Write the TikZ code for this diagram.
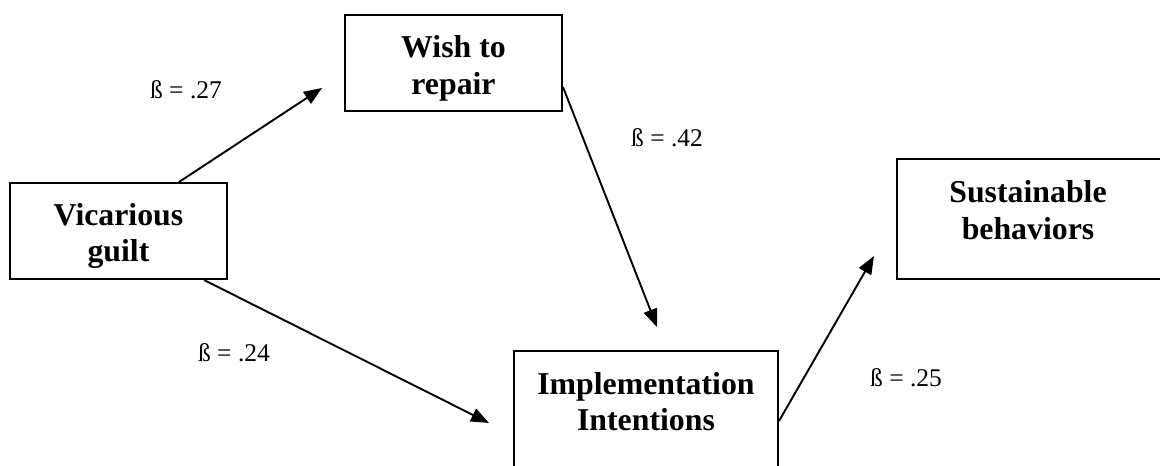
\documentclass[tikz,border=0pt]{standalone}
\usepackage{fontspec}
\setmainfont{Liberation Serif}
\usetikzlibrary{arrows.meta}
\begin{document}
\begin{tikzpicture}[x=1pt,y=-1pt,
  box/.style={draw,line width=2pt,inner sep=0pt},
  boxtext/.style={font=\fontsize{31.8}{36.5}\selectfont\bfseries,align=center,inner sep=0pt,anchor=north},
  beta/.style={font=\fontsize{25.5}{30}\selectfont,inner sep=0pt},
  conn/.style={line width=1.9pt,-{Triangle[length=18pt,width=14pt]}}]
\clip (0,0) rectangle (1160,466);
% boxes
\node[box,minimum width=217pt,minimum height=96pt] (vg) at (118.5,231) {};
\node[boxtext] (vgt) at ([yshift=-21pt]vg.north) {Vicarious\\guilt};
\node[box,minimum width=217pt,minimum height=96pt] (wr) at (453.5,63) {};
\node[boxtext] (wrt) at ([yshift=-21.5pt]wr.north) {Wish to\\repair};
\node[box,minimum width=264pt,minimum height=120pt] (sb) at (1029,219) {};
\node[boxtext] (sbt) at (1028,180.5) {Sustainable\\behaviors};
\node[box,minimum width=264pt,minimum height=130pt] (ii) at (646,416) {};
\node[boxtext] (iit) at ([yshift=-22pt]ii.north) {Implementation\\Intentions};
% free arrow ends
\coordinate (t1) at (322,88);
\coordinate (t2) at (657,327);
\coordinate (t3) at (489,423);
\coordinate (t4) at (874,256);
% connectors
\draw[conn] ([xshift=60.5pt]vg.north) -- (t1);
\draw[conn] ([yshift=-24pt]wr.east) -- (t2);
\draw[conn] ([xshift=-24pt]vg.south east) -- (t3);
\draw[conn] ([yshift=-5pt]ii.east) -- (t4);
% labels
\node[beta] (b1) at (186,90) {ß = .27};
\node[beta] (b2) at (667,138) {ß = .42};
\node[beta] (b3) at (234,353) {ß = .24};
\node[beta] (b4) at (906,378) {ß = .25};
\end{tikzpicture}
\end{document}
